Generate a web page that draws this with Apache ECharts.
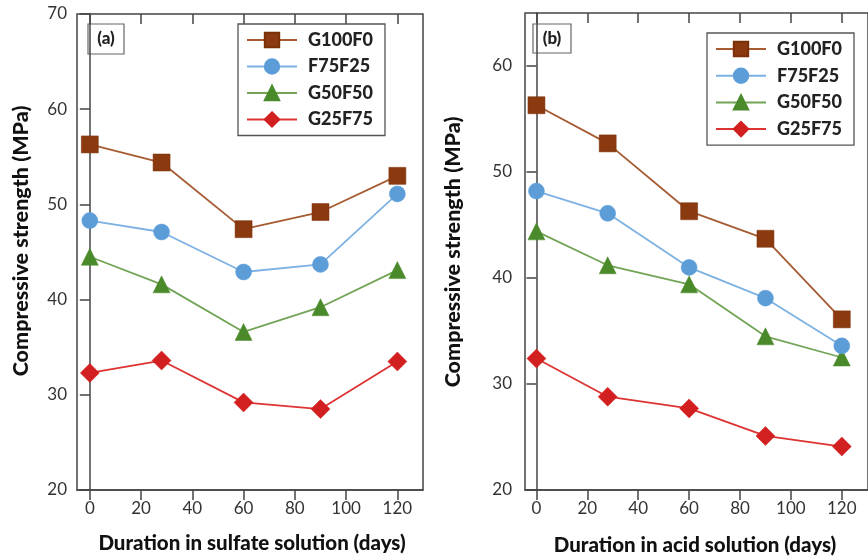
<!DOCTYPE html>
<html>
<head>
<meta charset="utf-8">
<script src="https://cdn.jsdelivr.net/npm/echarts@6/dist/echarts.min.js"></script>
<style>html,body{margin:0;padding:0;background:#fff}#c{width:868px;height:560px}</style>
</head>
<body>
<div id="c"></div>
<script>
const days = [0, 28, 60, 90, 120];
const seriesNames = ['G100F0', 'F75F25', 'G50F50', 'G25F75'];
const xTicks = [0, 20, 40, 60, 80, 100, 120];
const yTicksA = [20, 30, 40, 50, 60, 70];
const yTicksB = [20, 30, 40, 50, 60];

// (a) sulfate solution
const sulfate_G100F0 = [56.3, 54.4, 47.4, 49.2, 53.0];
const sulfate_F75F25 = [48.3, 47.1, 42.9, 43.7, 51.1];
const sulfate_G50F50 = [44.5, 41.6, 36.6, 39.2, 43.1];
const sulfate_G25F75 = [32.3, 33.6, 29.2, 28.5, 33.5];
// (b) acid solution
const acid_G100F0 = [56.3, 52.7, 46.3, 43.7, 36.1];
const acid_F75F25 = [48.2, 46.1, 41.0, 38.1, 33.6];
const acid_G50F50 = [44.4, 41.2, 39.4, 34.5, 32.5];
const acid_G25F75 = [32.4, 28.8, 27.7, 25.1, 24.1];

const styles = [
  {symbol: 'rect', size: 17, fill: '#8B3A10', border: '#7a3008', line: '#A65B33'},
  {symbol: 'circle', size: 16, fill: '#5C9DD8', border: '#5C9DD8', line: '#7DB1E3'},
  {symbol: 'triangle', size: 17, fill: '#4A8A2A', border: '#4A8A2A', line: '#72A456'},
  {symbol: 'diamond', size: 19, fill: '#D21F1F', border: '#D21F1F', line: '#DD3333'}
];

const FONT = 'Lato';
const sulfate = [sulfate_G100F0, sulfate_F75F25, sulfate_G50F50, sulfate_G25F75];
const acid = [acid_G100F0, acid_F75F25, acid_G50F50, acid_G25F75];

function makeSeries(vals, gi) {
  return vals.map((v, k) => ({
    name: seriesNames[k],
    type: 'line',
    xAxisIndex: gi * 2,
    yAxisIndex: gi * 2,
    symbol: styles[k].symbol,
    symbolSize: styles[k].size,
    z: 10 - k,
    itemStyle: {color: styles[k].fill, borderColor: styles[k].border, borderWidth: 0.5},
    lineStyle: {color: styles[k].line, width: 1.8},
    data: days.map((d, i) => [d, v[i]])
  }));
}

const axisColor = '#444';
const labelStyle = {color: '#333', fontSize: 17, fontFamily: FONT};

function xAxes(gi, min, max) {
  return [
    {gridIndex: gi, type: 'value', min: min, max: max,
     axisLine: {show: true, lineStyle: {color: axisColor, width: 1.5}},
     axisTick: {show: true, length: 10, customValues: xTicks, lineStyle: {color: axisColor, width: 1.5}},
     axisLabel: Object.assign({customValues: xTicks, margin: 10}, labelStyle),
     splitLine: {show: false}},
    {gridIndex: gi, type: 'value', min: min, max: max,
     axisLine: {show: false},
     axisTick: {show: true, inside: true, length: 10, customValues: xTicks, lineStyle: {color: axisColor, width: 1.5}},
     axisLabel: {show: false}, splitLine: {show: false}}
  ];
}
function yAxes(gi, min, max, ticks, margin) {
  return [
    {gridIndex: gi, type: 'value', min: min, max: max,
     axisLine: {show: true, lineStyle: {color: axisColor, width: 1.5}},
     axisTick: {show: true, length: 9, customValues: ticks, lineStyle: {color: axisColor, width: 1.5}},
     axisLabel: Object.assign({customValues: ticks, margin: margin}, labelStyle),
     splitLine: {show: false}},
    {gridIndex: gi, type: 'value', min: min, max: max,
     axisLine: {show: false},
     axisTick: {show: true, inside: true, length: 10, customValues: ticks, lineStyle: {color: axisColor, width: 1.5}},
     axisLabel: {show: false}, splitLine: {show: false}}
  ];
}

function legend(left, top, gap) {
  return {
    left: left, top: top, orient: 'vertical',
    data: seriesNames,
    itemWidth: 50, itemHeight: 18, itemGap: gap,
    padding: [7, 12, 7, 8],
    borderColor: '#555', borderWidth: 1.3, backgroundColor: '#fff',
    textStyle: {fontFamily: FONT, fontWeight: 900, fontSize: 18, color: '#222', padding: [0, 0, 0, 6]},
    selectedMode: false
  };
}

function panelLabel(x, y, w, h, txt) {
  return {type: 'group', x: x, y: y, children: [
    {type: 'rect', shape: {x: 0, y: 0, width: w, height: h},
     style: {fill: '#fff', stroke: '#666', lineWidth: 1.2}},
    {type: 'text', x: w / 2, y: h / 2,
     style: {text: txt, fontFamily: FONT, fontWeight: 900, fontSize: 17, fill: '#222', align: 'center', verticalAlign: 'middle'}}
  ]};
}

const chart = echarts.init(document.getElementById('c'), null, {renderer: 'canvas'});
chart.setOption({
  animation: false,
  backgroundColor: '#fff',
  grid: [
    {left: 77, top: 14, width: 346, height: 476, show: true, borderColor: axisColor, borderWidth: 1.5, backgroundColor: 'transparent'},
    {left: 525, top: 13, width: 347, height: 477, show: true, borderColor: axisColor, borderWidth: 1.5, backgroundColor: 'transparent'}
  ],
  xAxis: [].concat(xAxes(0, -5, 130), xAxes(1, -4.5, 130.3)),
  yAxis: [].concat(yAxes(0, 20, 70, yTicksA, 10), yAxes(1, 20, 65, yTicksB, 13)),
  legend: [legend(238, 24, 8.5), legend(707, 33, 8.7)],
  series: [].concat(makeSeries(sulfate, 0), makeSeries(acid, 1)),
  graphic: [
    panelLabel(88, 24, 36, 30, '(a)'),
    panelLabel(533, 24, 38, 29, '(b)'),
    {type: 'text', x: 21, y: 241, rotation: Math.PI / 2,
     style: {text: 'Compressive strength (MPa)', fontFamily: FONT, fontWeight: 900, fontSize: 21.5, fill: '#111', align: 'center', verticalAlign: 'middle'}},
    {type: 'text', x: 453, y: 252, rotation: Math.PI / 2,
     style: {text: 'Compressive strength (MPa)', fontFamily: FONT, fontWeight: 900, fontSize: 21.5, fill: '#111', align: 'center', verticalAlign: 'middle'}},
    {type: 'text', x: 252, y: 543,
     style: {text: 'Duration in sulfate solution (days)', fontFamily: FONT, fontWeight: 900, fontSize: 20.5, fill: '#111', align: 'center', verticalAlign: 'middle'}},
    {type: 'text', x: 695, y: 545,
     style: {text: 'Duration in acid solution (days)', fontFamily: FONT, fontWeight: 900, fontSize: 20.5, fill: '#111', align: 'center', verticalAlign: 'middle'}}
  ]
});
</script>
</body>
</html>
